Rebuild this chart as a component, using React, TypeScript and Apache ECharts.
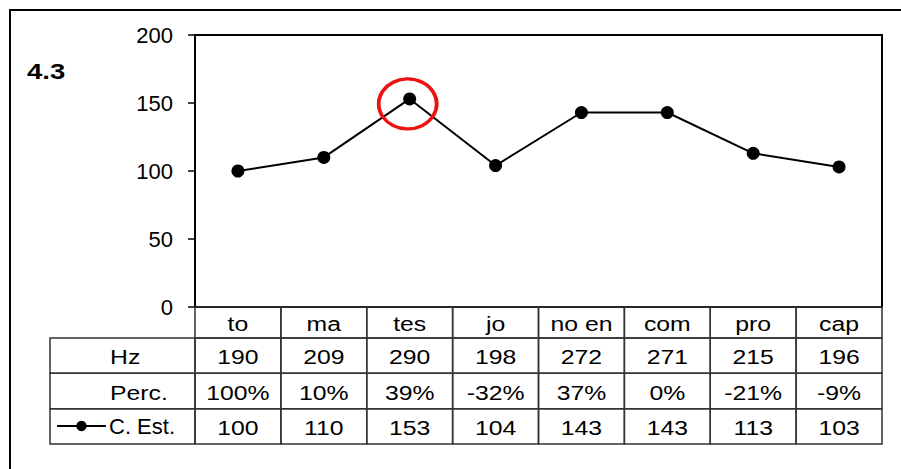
import React, { useEffect, useRef } from "react";
import * as echarts from "echarts";

const categories = ["to", "ma", "tes", "jo", "no en", "com", "pro", "cap"];
const hzValues = ["190", "209", "290", "198", "272", "271", "215", "196"];
const percValues = ["100%", "10%", "39%", "-32%", "37%", "0%", "-21%", "-9%"];
const cEst = [100, 110, 153, 104, 143, 143, 113, 103];
const rowNames = ["Hz", "Perc.", "C. Est."];
const yTicks = { min: 0, max: 200, interval: 50 };
const panelLabel = "4.3";
const highlightIndex = 2;

const FONT = "'Liberation Sans', Arial, sans-serif";
const FS = 21;
const AXIS_FS = 22;
const STRETCH = 1.18;

export default function App() {
  const ref = useRef<HTMLDivElement>(null);
  useEffect(() => {
    const chart = echarts.init(ref.current!, null, { renderer: "svg" });

    const tableRows = [hzValues, percValues, cEst.map(String)];
    const tableData: number[][] = [];
    const tableTexts: string[] = [];
    tableRows.forEach((row, r) =>
      row.forEach((v, i) => {
        tableData.push([i, r]);
        tableTexts.push(v);
      })
    );
    const catData = categories.map((_, i) => [i, 0]);
    const headData = rowNames.map((_, r) => [0, r]);
    const headTexts = rowNames.map((n, r) => (r === rowNames.length - 1 ? "" : n));

    const cellRenderer =
      (texts: string[], align: "center" | "left", padLeft = 0) =>
      (params: any, api: any) => {
        const c = api.coord([api.value(0), api.value(1)]);
        const s = api.size([1, 1]);
        const x0 = c[0] - s[0] / 2;
        const y0 = c[1] - s[1] / 2;
        return {
          type: "group",
          children: [
            {
              type: "rect",
              shape: { x: x0, y: y0, width: s[0], height: s[1] },
              style: { fill: "none", stroke: "#333", lineWidth: 1.5 },
            },
            {
              type: "text",
              x: align === "center" ? c[0] : x0 + padLeft,
              y: c[1] + 1.5,
              scaleX: STRETCH,
              style: {
                text: texts[params.dataIndex],
                fill: "#000",
                fontSize: FS,
                fontFamily: FONT,
                align,
                verticalAlign: "middle",
              },
            },
          ],
        };
      };

    const hiddenCat = (gridIndex: number, data: string[], inverse = false) => ({
      type: "category" as const,
      gridIndex,
      data,
      inverse,
      boundaryGap: true,
      axisLine: { show: false },
      axisTick: { show: false },
      axisLabel: { show: false },
      splitLine: { show: false },
    });

    chart.setOption({
      animation: false,
      backgroundColor: "#fff",
      textStyle: { fontFamily: FONT },
      legend: {
        data: ["C. Est."],
        left: 56,
        top: 415,
        itemWidth: 49,
        itemHeight: 13,
        itemGap: 0,
        padding: 0,
        selectedMode: false,
        textStyle: { fontSize: AXIS_FS, color: "#000", fontFamily: FONT, padding: [0, 0, 0, -2] },
      },
      grid: [
        { left: 195, top: 35, width: 687, height: 272, show: true, borderColor: "#000", borderWidth: 2, containLabel: false },
        { left: 195, top: 307, width: 687, height: 31 },
        { left: 195, top: 338, width: 687, height: 106 },
        { left: 50, top: 338, width: 145, height: 106 },
      ],
      xAxis: [
        {
          type: "category",
          gridIndex: 0,
          data: categories,
          boundaryGap: true,
          axisLine: { show: true, lineStyle: { color: "#000", width: 2 } },
          axisTick: { show: false },
          axisLabel: { show: false },
          splitLine: { show: false },
        },
        hiddenCat(1, categories),
        hiddenCat(2, categories),
        hiddenCat(3, ["head"]),
      ],
      yAxis: [
        {
          type: "value",
          gridIndex: 0,
          min: yTicks.min,
          max: yTicks.max,
          interval: yTicks.interval,
          axisLine: { show: true, lineStyle: { color: "#000", width: 2 } },
          axisTick: { show: true, length: 7, inside: false, lineStyle: { color: "#000", width: 1.5 } },
          axisLabel: { fontSize: AXIS_FS, color: "#000", margin: 22, fontFamily: FONT, padding: [3, 0, 0, 0] },
          splitLine: { show: false },
        },
        hiddenCat(1, ["cat"]),
        hiddenCat(2, rowNames, true),
        hiddenCat(3, rowNames, true),
      ],
      graphic: [
        {
          type: "polyline",
          shape: { points: [[10, 469], [10, 10], [901, 10]] },
          style: { stroke: "#000", lineWidth: 2, fill: "none" },
          silent: true,
        },
        {
          type: "text",
          left: 27,
          top: 60,
          scaleX: 1.25,
          style: { text: panelLabel, fontSize: 22, fontWeight: "bold", fill: "#000", fontFamily: FONT },
        },
      ],
      series: [
        {
          name: "C. Est.",
          type: "line",
          xAxisIndex: 0,
          yAxisIndex: 0,
          data: cEst,
          symbol: "circle",
          symbolSize: 13,
          lineStyle: { color: "#000", width: 2 },
          itemStyle: { color: "#000" },
          markPoint: {
            symbol: "circle",
            symbolSize: [58, 50],
            symbolOffset: [-2, 5],
            label: { show: false },
            silent: true,
            itemStyle: { color: "rgba(0,0,0,0)", borderColor: "#ee1111", borderWidth: 3.5 },
            data: [{ coord: [categories[highlightIndex], cEst[highlightIndex]] }],
          },
        },
        {
          type: "custom",
          xAxisIndex: 1,
          yAxisIndex: 1,
          data: catData,
          renderItem: cellRenderer(categories, "center"),
          silent: true,
        },
        {
          type: "custom",
          xAxisIndex: 2,
          yAxisIndex: 2,
          data: tableData,
          renderItem: cellRenderer(tableTexts, "center"),
          silent: true,
        },
        {
          type: "custom",
          xAxisIndex: 3,
          yAxisIndex: 3,
          data: headData,
          renderItem: cellRenderer(headTexts, "left", 60),
          silent: true,
        },
      ],
    });
    return () => chart.dispose();
  }, []);
  return (
    <div
      ref={ref}
      style={{ position: "fixed", left: 0, top: 0, width: 901, height: 469, background: "#fff" }}
    />
  );
}
